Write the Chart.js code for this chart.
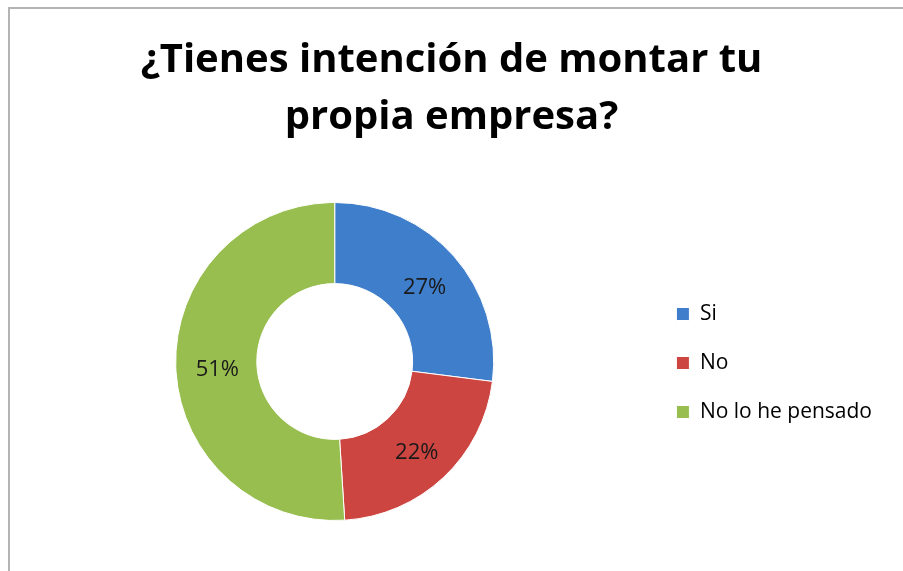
<!DOCTYPE html>
<html>
<head>
<meta charset="utf-8">
<script src="https://cdn.jsdelivr.net/npm/chart.js@4"></script>
<style>
  html, body { margin: 0; padding: 0; background: #fff; }
  #wrap { position: relative; width: 903px; height: 571px; overflow: hidden; }
  #frame { position: absolute; left: 8px; top: 7px; width: 1000px; height: 1000px; border: 2px solid #b4b4b4; }
  #chart { position: absolute; left: 0; top: 0; }
</style>
</head>
<body>
<div id="wrap">
  <div id="frame"></div>
  <canvas id="chart" width="903" height="571"></canvas>
</div>
<script>
const categories = ["Si", "No", "No lo he pensado"];
const percentages = [27, 22, 51];
const sliceColors = ["#3f7ecb", "#cc4540", "#97be4e"];

// writes the percentage in the middle of each slice
const sliceLabels = {
  id: "sliceLabels",
  afterDatasetsDraw(chart) {
    const ctx = chart.ctx;
    const meta = chart.getDatasetMeta(0);
    ctx.save();
    ctx.font = "22px 'Open Sans'";
    ctx.fillStyle = "#1a1a1a";
    ctx.textAlign = "center";
    ctx.textBaseline = "middle";
    meta.data.forEach(function (arc, i) {
      const p = arc.tooltipPosition();
      ctx.fillText(percentages[i] + "%", p.x + 1, p.y + 5);
    });
    ctx.restore();
  },
};

document.addEventListener("DOMContentLoaded", function () {
  const ctx = document.getElementById("chart").getContext("2d");
  new Chart(ctx, {
    type: "doughnut",
    data: {
      labels: categories,
      datasets: [
        {
          data: percentages,
          backgroundColor: sliceColors,
          borderColor: "#ffffff",
          borderWidth: 1,
        },
      ],
    },
    options: {
      responsive: false,
      animation: false,
      cutout: "49%",
      layout: { padding: { left: 21, right: 21, top: 0, bottom: 50 } },
      plugins: {
        title: {
          display: true,
          text: ["¿Tienes intención de montar tu", "propia empresa?"],
          color: "#000",
          font: { family: "'Open Sans'", size: 40, weight: "bold", lineHeight: 1.425 },
          padding: { top: 32, bottom: 56 },
        },
        legend: {
          position: "right",
          // empty legend title only used to push the items down to mid height
          title: { display: true, text: " ", font: { size: 1, lineHeight: 1 }, padding: { top: 204, bottom: 0 } },
          labels: {
            color: "#000",
            font: { family: "'Open Sans'", size: 21 },
            boxWidth: 13,
            boxHeight: 13,
            padding: 28,
          },
        },
        tooltip: { enabled: false },
      },
    },
    plugins: [sliceLabels],
  });
});
</script>
</body>
</html>
